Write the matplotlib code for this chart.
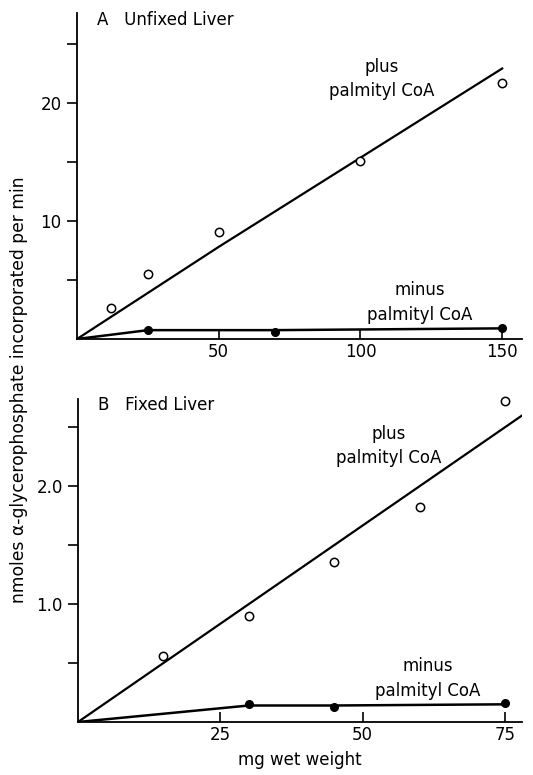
import numpy as np
import matplotlib.pyplot as plt

plt.rcParams['font.family'] = ['DejaVu Sans']

# panel A: unfixed liver (x in mg wet weight)
a_plus_x = [12, 25, 50, 100, 150]
a_plus_y = [2.6, 5.5, 9.1, 15.1, 21.7]
a_plus_fit_x = [0, 50, 150]
a_plus_fit_y = [0, 7.8, 22.9]
a_minus_x = [25, 70, 150]
a_minus_y = [0.75, 0.6, 0.97]
a_minus_fit_x = [0, 25, 70, 150]
a_minus_fit_y = [0, 0.75, 0.75, 0.9]

# panel B: fixed liver
b_plus_x = [15, 30, 45, 60, 75]
b_plus_y = [0.56, 0.90, 1.36, 1.82, 2.72]
b_plus_fit_x = [0, 78]
b_plus_fit_y = [0, 2.60]
b_minus_x = [30, 45, 75]
b_minus_y = [0.15, 0.13, 0.16]
b_minus_fit_x = [0, 30, 45, 75]
b_minus_fit_y = [0, 0.14, 0.14, 0.15]

W, H = 533, 775
fig = plt.figure(figsize=(W / 100, H / 100), dpi=100)

def px_axes(l, t, r, b):
    return fig.add_axes([l / W, 1 - b / H, (r - l) / W, (b - t) / H])

axA = px_axes(77, 13, 522, 339)
axB = px_axes(78, 399, 522, 722)

FS = 12

def style(ax):
    for s in ['top', 'right']:
        ax.spines[s].set_visible(False)
    for s in ['left', 'bottom']:
        ax.spines[s].set_linewidth(1.3)
    ax.tick_params(axis='x', direction='in', length=7, width=1.2, labelsize=FS, pad=3)
    ax.tick_params(axis='y', direction='out', length=7, width=1.2, labelsize=FS, pad=4)
    ax.tick_params(axis='y', which='minor', direction='out', length=7, width=1.2)

# --- panel A
axA.plot(a_plus_fit_x, a_plus_fit_y, color='black', lw=1.6)
axA.plot(a_plus_x, a_plus_y, 'o', ms=6, mfc='white', mec='black', mew=1.1, clip_on=False)
axA.plot(a_minus_fit_x, a_minus_fit_y, color='black', lw=1.8)
axA.plot(a_minus_x, a_minus_y, 'o', ms=5.5, color='black', clip_on=False)
axA.set_xlim(0, 157)
axA.set_ylim(0, 27.6)
axA.set_xticks([50, 100, 150])
axA.set_yticks([10, 20])
axA.set_yticks([5, 15, 25], minor=True)
style(axA)
axA.text(7, 27, 'A   Unfixed Liver', fontsize=FS, va='center')
axA.text(107.5, 22.0, 'plus\npalmityl CoA', fontsize=FS, ha='center', va='center',
         linespacing=1.45)
axA.text(121, 3.1, 'minus\npalmityl CoA', fontsize=FS, ha='center', va='center',
         linespacing=1.45)

# --- panel B
axB.plot(b_plus_fit_x, b_plus_fit_y, color='black', lw=1.6)
axB.plot(b_plus_x, b_plus_y, 'o', ms=6, mfc='white', mec='black', mew=1.1, clip_on=False)
axB.plot(b_minus_fit_x, b_minus_fit_y, color='black', lw=1.8)
axB.plot(b_minus_x, b_minus_y, 'o', ms=5.5, color='black', clip_on=False)
axB.set_xlim(0, 78)
axB.set_ylim(0, 2.74)
axB.set_xticks([25, 50, 75])
axB.set_yticks([1.0, 2.0])
axB.set_yticklabels(['1.0', '2.0'])
axB.set_yticks([0.5, 1.5, 2.5], minor=True)
style(axB)
axB.text(3.5, 2.69, 'B   Fixed Liver', fontsize=FS, va='center')
axB.text(54.5, 2.34, 'plus\npalmityl CoA', fontsize=FS, ha='center', va='center',
         linespacing=1.45)
axB.text(61.5, 0.37, 'minus\npalmityl CoA', fontsize=FS, ha='center', va='center',
         linespacing=1.45)
axB.set_xlabel('mg wet weight', fontsize=FS, labelpad=5)

fig.text(19 / W, 1 - 390 / H, 'nmoles α-glycerophosphate incorporated per min',
         rotation=90, ha='center', va='center', fontsize=12.3)

fig.savefig('out.png', dpi=100)
